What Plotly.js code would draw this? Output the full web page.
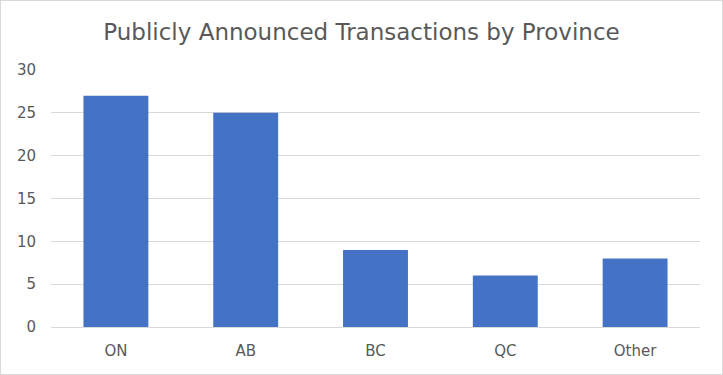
<!DOCTYPE html>
<html><head><meta charset="utf-8">
<script src="https://cdn.plot.ly/plotly-3.0.1.min.js"></script>
<style>html,body{margin:0;padding:0;background:#fff;}#c{width:723px;height:375px;box-sizing:border-box;border:1px solid #d9d9d9;}</style>
</head><body><div id="c"></div>
<script>
const categories = ["ON", "AB", "BC", "QC", "Other"];
const values = [27, 25, 9, 6, 8];
const yTicks = [0, 5, 10, 15, 20, 25, 30];
const fontFam = "'DejaVu Sans', sans-serif";
Plotly.newPlot("c", [{
  type: "bar", x: categories, y: values,
  marker: {color: "#4472C4"}, hoverinfo: "x+y"
}], {
  width: 721, height: 373,
  margin: {l: 50, r: 22, t: 69, b: 47},
  bargap: 0.5,
  paper_bgcolor: "#fff", plot_bgcolor: "#fff",
  title: {text: "Publicly Announced Transactions by Province", x: 0.5, xanchor: "center", y: 0.918, yanchor: "middle",
    font: {family: fontFam, size: 23, color: "#595959"}},
  xaxis: {tickfont: {family: fontFam, size: 15, color: "#595959"}, showline: true, linecolor: "#d9d9d9", linewidth: 1, ticks: "", ticklen: 0, ticklabelstandoff: 10},
  yaxis: {range: [0, 30], tickvals: yTicks, tickfont: {family: fontFam, size: 15, color: "#595959"},
    gridcolor: "#d9d9d9", gridwidth: 1, zeroline: false, ticks: "", ticklen: 0, ticklabelstandoff: 14},
  showlegend: false
}, {displayModeBar: false, staticPlot: true});
</script></body></html>
